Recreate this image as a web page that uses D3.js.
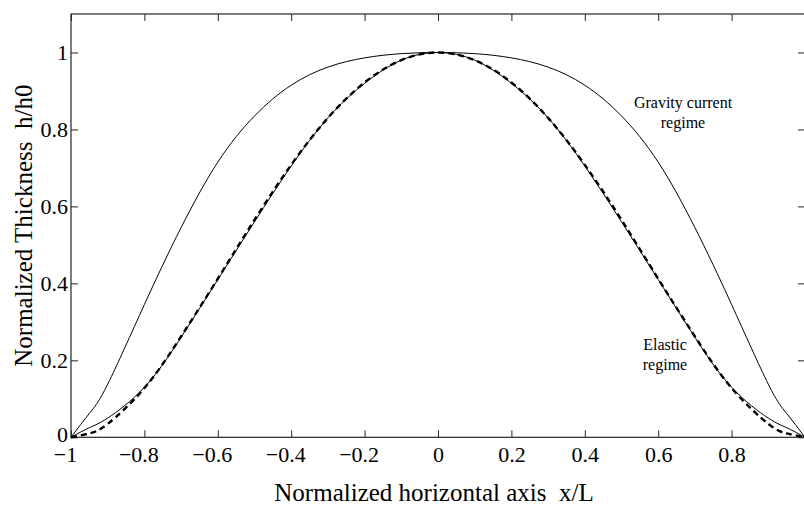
<!DOCTYPE html>
<html>
<head>
<meta charset="utf-8">
<script src="https://cdn.jsdelivr.net/npm/d3@7"></script>
<style>
  body { margin: 0; background: #fff; }
  svg { display: block; font-family: "Liberation Serif", "DejaVu Serif", serif; }
</style>
</head>
<body>
<figure id="profile" style="margin:0"></figure>
<script>
// values
const xValues = [-1, -0.95, -0.9, -0.8, -0.7, -0.6, -0.5, -0.4, -0.3, -0.2, -0.1, 0,
  0.1, 0.2, 0.3, 0.4, 0.5, 0.6, 0.7, 0.8, 0.9, 0.95, 1];
const gravityValues = [0, 0.062, 0.138, 0.345, 0.545, 0.715, 0.835, 0.915, 0.962, 0.986, 0.997, 1,
  0.997, 0.986, 0.962, 0.915, 0.835, 0.715, 0.545, 0.345, 0.138, 0.062, 0];
const elasticValues = [0, 0.025, 0.05, 0.13, 0.26, 0.41, 0.56, 0.705, 0.83, 0.92, 0.98, 1,
  0.98, 0.92, 0.83, 0.705, 0.56, 0.41, 0.26, 0.13, 0.05, 0.025, 0];
const elasticDashedValues = [0, 0.01, 0.035, 0.128, 0.262, 0.412, 0.565, 0.708, 0.83, 0.922, 0.98, 1,
  0.98, 0.922, 0.83, 0.708, 0.565, 0.412, 0.262, 0.128, 0.035, 0.01, 0];
const xTicks = [-1, -0.8, -0.6, -0.4, -0.2, 0, 0.2, 0.4, 0.6, 0.8];
const yTicks = [0, 0.2, 0.4, 0.6, 0.8, 1];

const width = 804, height = 506;
const plotLeft = 71, plotRight = 805, plotTop = 14, plotBottom = 437.3;

const svg = d3.select("figure#profile").append("svg")
  .attr("width", width)
  .attr("height", height);

const x = d3.scaleLinear().domain([-1, 1]).range([plotLeft, plotRight]);
const y = d3.scaleLinear().domain([0, 1.1]).range([plotBottom, plotTop]);

const fmt = (d) => d === 0 ? "0" : (d < 0 ? "\u2212" : "") + d3.format("~g")(Math.abs(d));

// axes, ticks pointing inwards like the matlab box
const axisColor = "#262626";
function styleAxis(g) {
  g.select(".domain").remove();
  g.selectAll(".tick line").attr("stroke", axisColor);
  g.selectAll("text").attr("fill", "#000").style("font-size", "22px");
  g.attr("font-family", null).attr("font-size", null);
}

svg.append("g")
  .attr("transform", `translate(0,${plotBottom})`)
  .call(d3.axisBottom(x).tickValues(xTicks).tickFormat(fmt).tickSizeInner(-7).tickSizeOuter(0).tickPadding(9))
  .call(styleAxis)
  .selectAll(".tick text")
  .attr("dx", (d) => d < 0 ? -6 : 0);

svg.append("g")
  .attr("transform", `translate(0,${plotTop})`)
  .call(d3.axisTop(x).tickValues(xTicks).tickFormat("").tickSizeInner(-7).tickSizeOuter(0))
  .call(styleAxis);

svg.append("g")
  .attr("transform", `translate(${plotLeft},0)`)
  .call(d3.axisLeft(y).tickValues(yTicks).tickFormat(fmt).tickSizeInner(-7).tickSizeOuter(0).tickPadding(3))
  .call(styleAxis)
  .selectAll(".tick text")
  .attr("dy", (d) => d === 0 ? "0.18em" : "0.32em");

svg.append("g")
  .attr("transform", `translate(${plotRight},0)`)
  .call(d3.axisRight(y).tickValues(yTicks).tickFormat("").tickSizeInner(-7).tickSizeOuter(0))
  .call(styleAxis);

// box
svg.append("rect")
  .attr("x", plotLeft).attr("y", plotTop)
  .attr("width", plotRight - plotLeft).attr("height", plotBottom - plotTop)
  .attr("fill", "none")
  .attr("stroke", axisColor)
  .attr("stroke-width", 1.2);

// curves
const line = d3.line()
  .x((d) => x(d[0]))
  .y((d) => y(d[1]))
  .curve(d3.curveNatural);

const series = [
  { values: gravityValues, width: 1, dash: null },
  { values: elasticValues, width: 1, dash: null },
  { values: elasticDashedValues, width: 2.4, dash: "6,4" }
];

svg.selectAll("path.curve")
  .data(series).enter()
  .append("path")
  .attr("class", "curve")
  .attr("d", (s) => line(xValues.map((v, i) => [v, s.values[i]])))
  .attr("fill", "none")
  .attr("stroke", "#000")
  .attr("stroke-width", (s) => s.width)
  .attr("stroke-dasharray", (s) => s.dash);

// annotations
function addNote(cx, baseline, lines) {
  const t = svg.append("text")
    .attr("text-anchor", "middle")
    .style("font-size", "16px")
    .attr("fill", "#000");
  lines.forEach((txt, i) => {
    t.append("tspan").attr("x", cx).attr("y", baseline + i * 19.5).text(txt);
  });
}
addNote(683, 108, ["Gravity current", "regime"]);
addNote(665, 350, ["Elastic", "regime"]);

// axis titles
svg.append("text")
  .attr("x", 434)
  .attr("y", 501)
  .attr("text-anchor", "middle")
  .style("font-size", "25px")
  .text("Normalized horizontal axis\u00a0\u00a0x/L");

svg.append("text")
  .attr("transform", `translate(32,${(plotTop + plotBottom) / 2}) rotate(-90)`)
  .attr("text-anchor", "middle")
  .style("font-size", "25px")
  .text("Normalized Thickness\u00a0\u00a0h/h0");
</script>
</body>
</html>
